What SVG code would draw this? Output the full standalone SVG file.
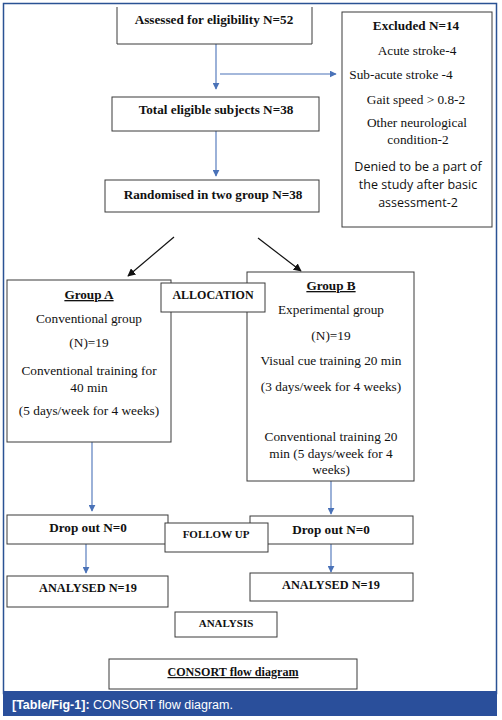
<svg xmlns="http://www.w3.org/2000/svg" width="502" height="720" viewBox="0 0 502 720">
<defs>
<style>
.box{fill:#fff;stroke:#3a3a3a;stroke-width:1}
.t{font-family:"Liberation Serif","Times New Roman",serif;font-size:13.3px;fill:#111;text-anchor:middle}
.b{font-weight:bold;font-size:13.2px}
.s{font-family:"Open Sans","Liberation Sans",Arial,sans-serif;font-size:12.5px;fill:#111;text-anchor:middle}
.blue{stroke:#4a72b8;stroke-width:1.1;fill:none}
.blk{stroke:#111;stroke-width:1.2;fill:none}
</style>
<marker id="ab" viewBox="0 0 10 10" refX="9" refY="5" markerWidth="7" markerHeight="7" orient="auto" markerUnits="userSpaceOnUse"><path d="M0,0 L10,5 L0,10 z" fill="#4a72b8"/></marker>
<marker id="ak" viewBox="0 0 10 10" refX="9" refY="5" markerWidth="8" markerHeight="8" orient="auto" markerUnits="userSpaceOnUse"><path d="M0,0 L10,5 L0,10 z" fill="#111"/></marker>
</defs>
<rect x="0" y="0" width="502" height="720" fill="#fff"/>
<rect x="3.5" y="3.5" width="493" height="690" fill="#fff" stroke="#2a5294" stroke-width="1.5"/>
<rect x="3" y="691" width="494" height="25" fill="#2a4f9b"/>
<text x="12" y="709" font-family="Liberation Sans,Arial,sans-serif" font-size="12.5" fill="#fff"><tspan font-weight="bold">[Table/Fig-1]:</tspan> CONSORT flow diagram.</text>

<g id="connectors">
<line class="blue" x1="216" y1="44" x2="216" y2="89" marker-end="url(#ab)"/>
<line class="blue" x1="220" y1="74" x2="336" y2="74" marker-end="url(#ab)"/>
<line class="blue" x1="216" y1="131" x2="216" y2="176" marker-end="url(#ab)"/>
<line class="blk" x1="174" y1="237" x2="128" y2="276" marker-end="url(#ak)"/>
<line class="blk" x1="258" y1="238" x2="301" y2="271" marker-end="url(#ak)"/>
<line class="blue" x1="92" y1="442" x2="92" y2="511" marker-end="url(#ab)"/>
<line class="blue" x1="331" y1="481" x2="331" y2="514" marker-end="url(#ab)"/>
<line class="blue" x1="86" y1="544" x2="86" y2="573" marker-end="url(#ab)"/>
<line class="blue" x1="331" y1="544" x2="331" y2="572" marker-end="url(#ab)"/>
</g>

<g id="assessed">
<rect x="117" y="5" width="195" height="39" fill="#fff"/>
<polyline points="117,7 117,44 312,44 312,7" fill="none" stroke="#3a3a3a" stroke-width="1"/>
<text class="t b" x="214" y="24">Assessed for eligibility N=52</text>
</g>

<g id="excluded">
<rect class="box" x="342" y="12" width="150" height="215"/>
<text class="t b" x="416" y="30">Excluded N=14</text>
<text class="t" x="417" y="55">Acute stroke-4</text>
<text class="t" x="401" y="79">Sub-acute stroke -4</text>
<text class="t" x="416" y="104">Gait speed &gt; 0.8-2</text>
<text class="t" x="417" y="127">Other neurological</text>
<text class="t" x="418" y="144">condition-2</text>
<text class="s" x="418" y="171">Denied to be a part of</text>
<text class="s" x="418" y="189">the study after basic</text>
<text class="s" x="418" y="207">assessment-2</text>
</g>

<g id="eligible">
<rect class="box" x="112" y="97" width="207" height="34"/>
<text class="t b" x="216" y="114">Total eligible subjects N=38</text>
</g>

<g id="randomised">
<rect class="box" x="105" y="180" width="214" height="32"/>
<text class="t b" x="213" y="199">Randomised in two group N=38</text>
</g>

<g id="groupA">
<rect class="box" x="7" y="280" width="164" height="162"/>
<text class="t b" x="89" y="299" text-decoration="underline">Group A</text>
<text class="t" x="89" y="323">Conventional group</text>
<text class="t" x="89" y="347">(N)=19</text>
<text class="t" x="89" y="375">Conventional training for</text>
<text class="t" x="89" y="392">40 min</text>
<text class="t" x="89" y="415">(5 days/week for 4 weeks)</text>
</g>

<g id="groupB">
<rect class="box" x="247" y="272" width="167" height="209"/>
<text class="t b" x="331" y="290" text-decoration="underline">Group B</text>
<text class="t" x="331" y="314">Experimental group</text>
<text class="t" x="331" y="340">(N)=19</text>
<text class="t" x="331" y="365">Visual cue training 20 min</text>
<text class="t" x="331" y="391">(3 days/week for 4 weeks)</text>
<text class="t" x="331" y="441">Conventional training 20</text>
<text class="t" x="331" y="458">min (5 days/week for 4</text>
<text class="t" x="331" y="474">weeks)</text>
</g>

<g id="allocation">
<rect class="box" x="161" y="283" width="104" height="29"/>
<text class="t b" x="213" y="299" style="font-size:12px">ALLOCATION</text>
</g>

<g id="dropA">
<rect class="box" x="7" y="515" width="161" height="29"/>
<text class="t b" x="88" y="532">Drop out N=0</text>
</g>

<g id="dropB">
<rect class="box" x="250" y="516" width="163" height="28"/>
<text class="t b" x="331" y="534">Drop out N=0</text>
</g>

<g id="followup">
<rect class="box" x="165" y="523" width="103" height="29"/>
<text class="t b" x="216" y="538" style="font-size:11px">FOLLOW UP</text>
</g>

<g id="analysedA">
<rect class="box" x="7" y="576" width="161" height="31"/>
<text class="t b" x="88" y="592" style="font-size:12.3px">ANALYSED N=19</text>
</g>

<g id="analysedB">
<rect class="box" x="250" y="573" width="163" height="28"/>
<text class="t b" x="331" y="589" style="font-size:12.3px">ANALYSED N=19</text>
</g>

<g id="analysis">
<rect class="box" x="175" y="612" width="102" height="25"/>
<text class="t b" x="226" y="627" style="font-size:11px">ANALYSIS</text>
</g>

<g id="consort">
<rect class="box" x="109" y="659" width="248" height="30"/>
<text class="t b" x="233" y="676" text-decoration="underline" style="font-size:12.1px">CONSORT flow diagram</text>
</g>
</svg>
